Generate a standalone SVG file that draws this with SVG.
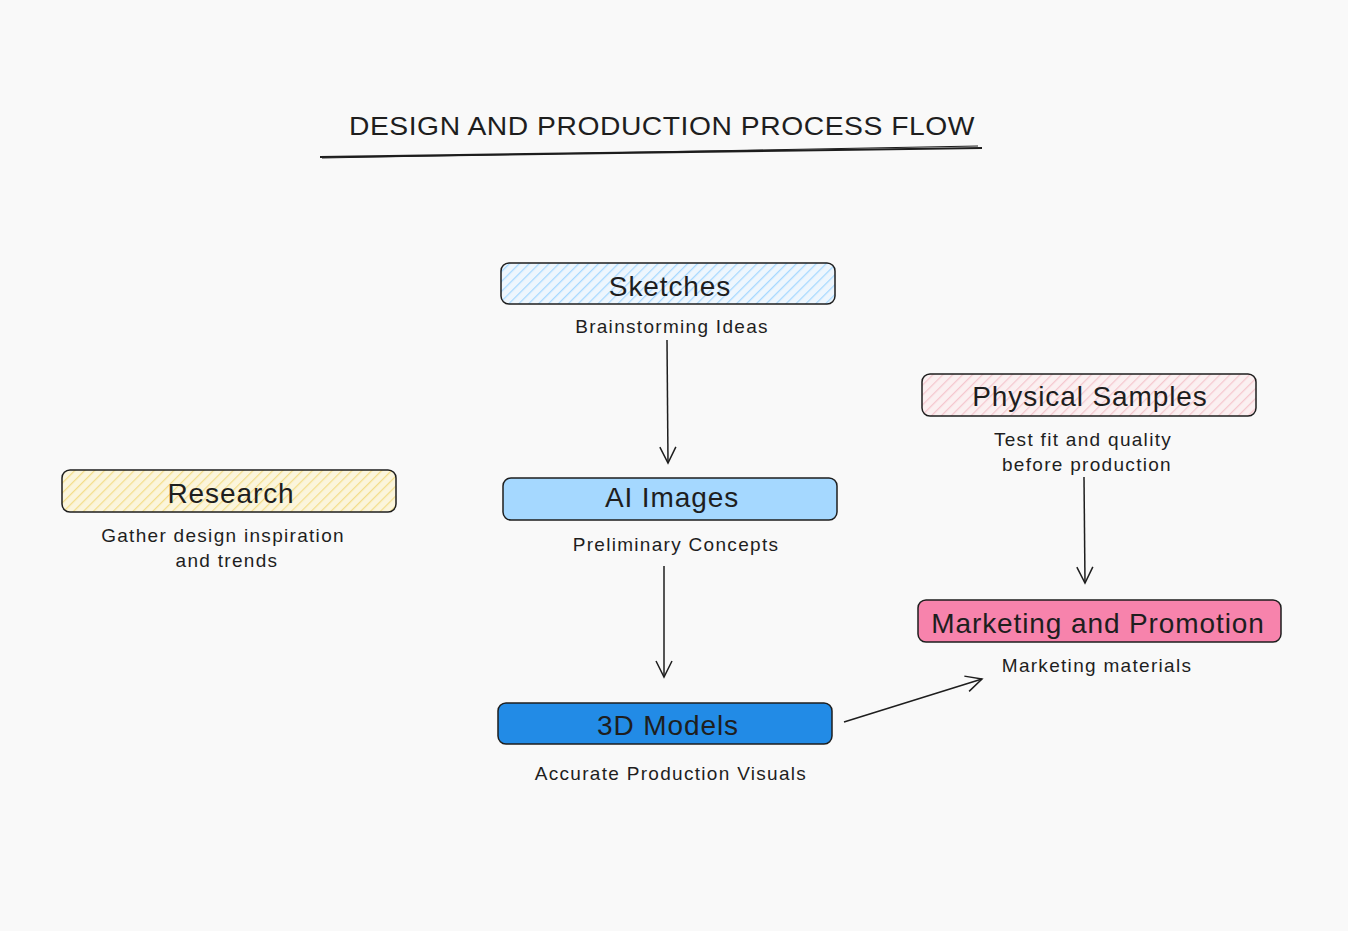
<svg xmlns="http://www.w3.org/2000/svg" width="1348" height="931" viewBox="0 0 1348 931">
<defs>
<pattern id="hatchBlue" patternUnits="userSpaceOnUse" width="7" height="7" patternTransform="rotate(45)">
<rect width="7" height="7" fill="#eef6fd"/>
<line x1="0" y1="0" x2="0" y2="7" stroke="#a5d8ff" stroke-width="2.5"/>
</pattern>
<pattern id="hatchYellow" patternUnits="userSpaceOnUse" width="7" height="7" patternTransform="rotate(45)">
<rect width="7" height="7" fill="#fbf5dc"/>
<line x1="0" y1="0" x2="0" y2="7" stroke="#f3dd8a" stroke-width="2.5"/>
</pattern>
<pattern id="hatchPink" patternUnits="userSpaceOnUse" width="7" height="7" patternTransform="rotate(45)">
<rect width="7" height="7" fill="#fbf0f1"/>
<line x1="0" y1="0" x2="0" y2="7" stroke="#f5c7ce" stroke-width="2.5"/>
</pattern>
<marker id="arrow" viewBox="0 0 20 20" refX="18" refY="10" markerWidth="20" markerHeight="20" markerUnits="userSpaceOnUse" orient="auto">
<path d="M2,2 L18,10 L2,18" fill="none" stroke="#1e1e1e" stroke-width="1.5"/>
</marker>
</defs>
<style>
.box{stroke:#1e1e1e;stroke-width:1.5}
.title{font-family:"Liberation Sans",sans-serif;font-size:28px;fill:#1e1e1e;text-anchor:middle;letter-spacing:0.9px}
.sub{font-family:"Liberation Sans",sans-serif;font-size:19px;fill:#1e1e1e;text-anchor:middle;letter-spacing:1.3px}
.head{font-family:"Liberation Sans",sans-serif;font-size:26px;fill:#1e1e1e;text-anchor:middle;letter-spacing:0.5px}
.conn{stroke:#1e1e1e;stroke-width:1.5;fill:none}
</style>
<rect width="1348" height="931" fill="#f9f9f9"/>
<g id="title">
<text class="head" x="662" y="135" textLength="626" lengthAdjust="spacingAndGlyphs">DESIGN AND PRODUCTION PROCESS FLOW</text>
<path d="M320,157 L982,148" stroke="#1e1e1e" stroke-width="2.2" fill="none"/>
<path d="M322,158 L978,146" stroke="#1e1e1e" stroke-width="1" fill="none"/>
</g>
<g id="connectors">
<line class="conn" x1="667" y1="340" x2="668" y2="463" marker-end="url(#arrow)"/>
<line class="conn" x1="664" y1="566" x2="664" y2="677" marker-end="url(#arrow)"/>
<line class="conn" x1="1084" y1="477" x2="1085" y2="583" marker-end="url(#arrow)"/>
<line class="conn" x1="844" y1="722" x2="982" y2="679" marker-end="url(#arrow)"/>
</g>
<g id="sketches">
<rect class="box" x="501" y="263" width="334" height="41" rx="8" fill="url(#hatchBlue)"/>
<text class="title" x="670" y="296">Sketches</text>
<text class="sub" x="672" y="333">Brainstorming Ideas</text>
</g>
<g id="ai-images">
<rect class="box" x="503" y="478" width="334" height="42" rx="8" fill="#a5d8ff"/>
<text class="title" x="672" y="507">AI Images</text>
<text class="sub" x="676" y="551">Preliminary Concepts</text>
</g>
<g id="models-3d">
<rect class="box" x="498" y="703" width="334" height="41" rx="8" fill="#228be6"/>
<text class="title" x="668" y="735">3D Models</text>
<text class="sub" x="671" y="780">Accurate Production Visuals</text>
</g>
<g id="research">
<rect class="box" x="62" y="470" width="334" height="42" rx="8" fill="url(#hatchYellow)"/>
<text class="title" x="231" y="503">Research</text>
<text class="sub" x="223" y="542">Gather design inspiration</text>
<text class="sub" x="227" y="567">and trends</text>
</g>
<g id="physical-samples">
<rect class="box" x="922" y="374" width="334" height="42" rx="8" fill="url(#hatchPink)"/>
<text class="title" x="1090" y="406">Physical Samples</text>
<text class="sub" x="1083" y="446">Test fit and quality</text>
<text class="sub" x="1087" y="471">before production</text>
</g>
<g id="marketing">
<rect class="box" x="918" y="600" width="363" height="42" rx="8" fill="#f783ac"/>
<text class="title" x="1098" y="633">Marketing and Promotion</text>
<text class="sub" x="1097" y="672">Marketing materials</text>
</g>
</svg>
